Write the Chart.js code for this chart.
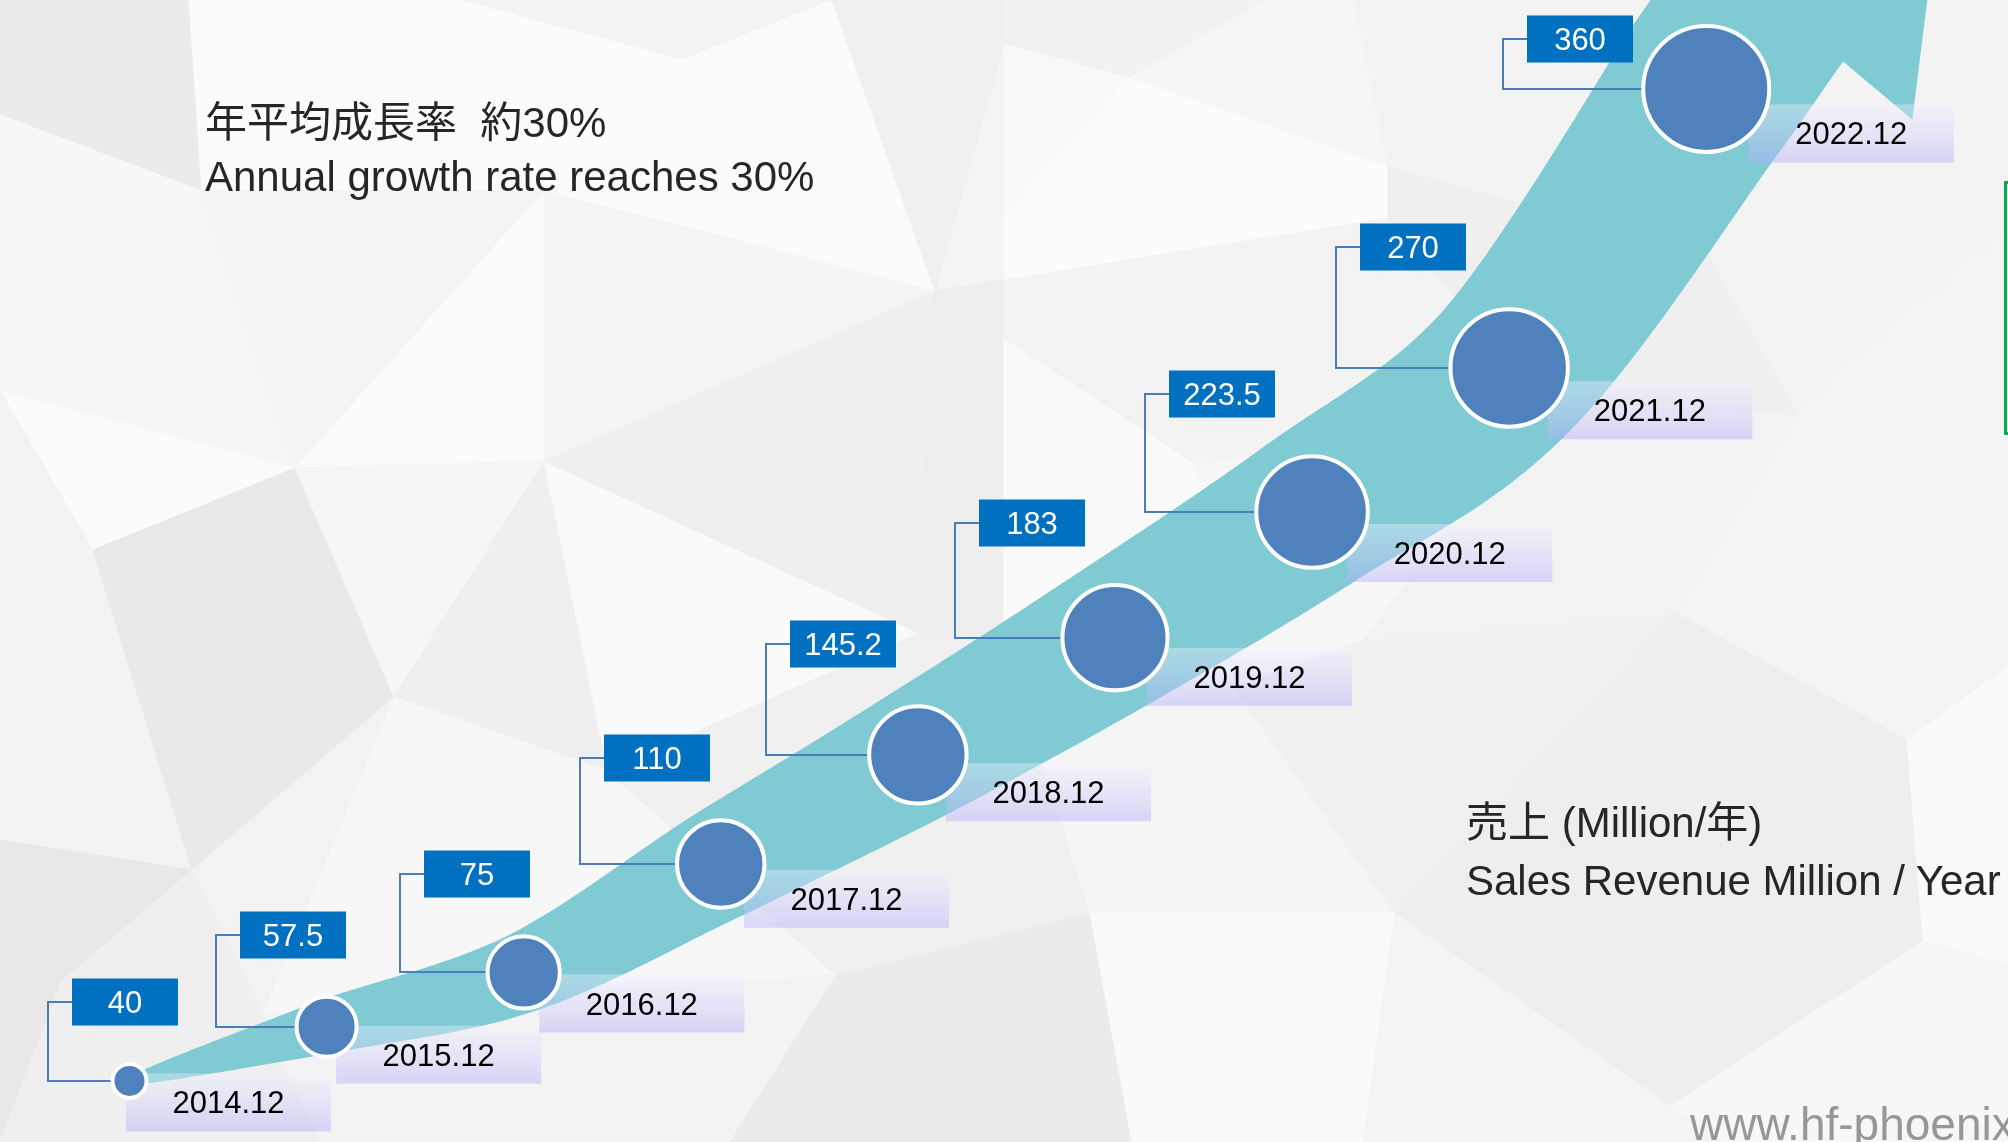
<!DOCTYPE html>
<html>
<head>
<meta charset="utf-8">
<script src="https://cdn.jsdelivr.net/npm/chart.js"></script>
<style>
  html, body { margin: 0; padding: 0; background: #f4f4f4; overflow: hidden; }
  #wrap { position: relative; width: 2008px; height: 1142px; overflow: hidden; }
  #c { position: absolute; left: 0; top: 0; }
  .note { position: absolute; white-space: nowrap; font-family: "Liberation Sans", Arial, "Noto Sans CJK JP", sans-serif; font-size: 42px; line-height: 42px; color: #262626; }
  .web { font-size: 46px; line-height: 46px; color: #979797; }
</style>
</head>
<body>
<div id="wrap">
  <canvas id="c" width="2008" height="1142"></canvas>
</div>
<script>
// ---------------- data ----------------
const categories = ['2014.12', '2015.12', '2016.12', '2017.12', '2018.12', '2019.12', '2020.12', '2021.12', '2022.12'];
const sales = [40, 57.5, 75, 110, 145.2, 183, 223.5, 270, 360];
const salesLabels = ['40', '57.5', '75', '110', '145.2', '183', '223.5', '270', '360'];
const notesLeft = ['年平均成長率\u00a0\u00a0約30%', 'Annual growth rate reaches 30%'];
const notesRight = ['売上 (Million/年)', 'Sales Revenue Million / Year'];
const website = 'www.hf-phoenix.com';

// ---------------- styles ----------------
const BAND = '#80cad4';
const BUBBLE = '#4f81bd';
const VALUE_BOX = '#0070c0';
const LINK = '#4a7ebb';
const FONT = '"Liberation Sans", Arial, sans-serif';
const R_MIN = 19, R_MAX = 65;

const vMin = Math.min(...sales), vMax = Math.max(...sales);
function outerRadius(v) {
  const t = Math.log(v / vMin) / Math.log(vMax / vMin);
  return R_MIN + (R_MAX - R_MIN) * Math.pow(t, 0.7);
}

// low-poly background facets (decoration only)
const BG_FACETS = [
  ['#ebebeb', [0,0, 189,0, 202,191, 0,115]],
  ['#fbfbfb', [189,0, 458,0, 544,191, 202,191]],
  ['#f3f3f3', [458,0, 832,0, 682,60]],
  ['#fcfcfc', [458,0, 682,60, 544,191]],
  ['#fbfbfb', [682,60, 832,0, 935,291, 544,191]],
  ['#f0f0f0', [832,0, 1004,0, 1004,44, 935,291]],
  ['#f8f8f8', [0,115, 202,191, 0,317]],
  ['#f6f6f6', [0,317, 202,191, 295,468, 0,391]],
  ['#f4f4f4', [202,191, 544,191, 295,468]],
  ['#fbfbfb', [544,191, 544,461, 295,468]],
  ['#f5f5f5', [544,191, 935,291, 544,461]],
  ['#fbfbfb', [0,391, 295,468, 93,550]],
  ['#f3f3f3', [0,391, 93,550, 192,870, 0,840]],
  ['#e9e9e9', [93,550, 295,468, 394,697, 192,870]],
  ['#f6f6f6', [295,468, 544,461, 394,697]],
  ['#efefef', [544,461, 608,771, 394,697]],
  ['#fafafa', [544,461, 919,633, 608,771]],
  ['#efefef', [544,461, 935,291, 919,633]],
  ['#e8e8e8', [0,840, 192,870, 61,982, 0,1142]],
  ['#f2f2f2', [192,870, 394,697, 263,1015]],
  ['#f7f7f7', [394,697, 608,771, 836,975, 263,1015]],
  ['#efefef', [61,982, 192,870, 263,1015, 320,1142, 0,1142]],
  ['#f3f3f3', [263,1015, 836,975, 730,1142, 320,1142]],
  ['#ebebeb', [836,975, 1090,913, 1132,1142, 730,1142]],
  ['#f0f0f0', [608,771, 919,633, 1004,640, 1090,913, 836,975]],
  ['#eeeeee', [935,291, 1004,280, 1004,640, 919,633]],
  ['#f1f1f1', [1004,0, 1266,0, 1129,78, 1004,44]],
  ['#f6f6f6', [1266,0, 1353,0, 1388,167, 1129,78]],
  ['#f3f3f3', [1353,0, 2008,0, 2008,233, 1798,415, 1708,255, 1388,167]],
  ['#f9f9f9', [1004,44, 1129,78, 1004,215]],
  ['#fcfcfc', [1004,215, 1129,78, 1388,167, 1388,218, 1004,280]],
  ['#f3f3f3', [1004,280, 1388,218, 1542,400, 1196,466, 1004,339]],
  ['#fafafa', [1004,339, 1196,466, 1234,688, 1004,640]],
  ['#efefef', [1388,167, 1708,255, 1798,415, 1542,400, 1388,218]],
  ['#f4f4f4', [1798,415, 2008,233, 2008,666, 1907,740, 1676,613]],
  ['#f2f2f2', [1542,400, 1798,415, 1676,613, 1363,640]],
  ['#f7f7f7', [1196,466, 1542,400, 1363,640, 1234,688]],
  ['#f5f5f5', [1004,640, 1234,688, 1395,913, 1090,913]],
  ['#f0f0f0', [1234,688, 1363,640, 1676,613, 1395,913]],
  ['#eeeeee', [1676,613, 1907,740, 1923,941, 1670,1106, 1395,913]],
  ['#fafafa', [1907,740, 2008,666, 2008,964, 1923,941]],
  ['#fafafa', [1090,913, 1395,913, 1363,1142, 1132,1142]],
  ['#f4f4f4', [1395,913, 1670,1106, 1727,1142, 1363,1142]],
  ['#f7f7f7', [1670,1106, 1923,941, 2008,964, 2008,1142, 1727,1142]]
];

// ---------------- html notes ----------------
const wrap = document.getElementById('wrap');
function addNote(text, left, top, cls) {
  const d = document.createElement('div');
  d.className = 'note' + (cls ? ' ' + cls : '');
  d.style.left = left + 'px';
  d.style.top = top + 'px';
  d.textContent = text;
  wrap.appendChild(d);
}
addNote(notesLeft[0], 205, 101.5);
addNote(notesLeft[1], 205, 155.5);
addNote(notesRight[0], 1466, 801.5);
addNote(notesRight[1], 1466, 859.5);
addNote(website, 1690, 1101, 'web');

// ---------------- plugins ----------------
function cr(p0, p1, p2, p3, t) {
  const t2 = t * t, t3 = t2 * t;
  return 0.5 * ((2 * p1) + (-p0 + p2) * t + (2 * p0 - 5 * p1 + 4 * p2 - p3) * t2 + (-p0 + 3 * p1 - 3 * p2 + p3) * t3);
}

const backgroundPlugin = {
  id: 'lowpoly',
  beforeDraw(chart) {
    const ctx = chart.ctx;
    ctx.save();
    ctx.fillStyle = '#f4f4f4';
    ctx.fillRect(0, 0, chart.width, chart.height);
    BG_FACETS.forEach(([col, pts]) => {
      ctx.beginPath();
      ctx.moveTo(pts[0], pts[1]);
      for (let k = 2; k < pts.length; k += 2) ctx.lineTo(pts[k], pts[k + 1]);
      ctx.closePath();
      ctx.fillStyle = col;
      ctx.fill();
      ctx.strokeStyle = col;
      ctx.lineWidth = 1;
      ctx.stroke();
    });
    ctx.restore();
  }
};

const arrowPlugin = {
  id: 'growthArrow',
  beforeDatasetsDraw(chart) {
    const ctx = chart.ctx;
    const meta = chart.getDatasetMeta(0);
    const P = meta.data.map(e => ({ x: e.x, y: e.y }));
    const R = sales.map(outerRadius);
    const HW = R.map(r => Math.max(4, 2.1 * r - 40));
    const n = P.length;

    // smooth centre line through the bubbles
    const S = [];
    const steps = 30;
    for (let i = 0; i < n - 1; i++) {
      const p0 = P[Math.max(i - 1, 0)], p1 = P[i], p2 = P[i + 1], p3 = P[Math.min(i + 2, n - 1)];
      for (let s = 0; s < steps; s++) {
        const t = s / steps;
        S.push({ x: cr(p0.x, p1.x, p2.x, p3.x, t), y: cr(p0.y, p1.y, p2.y, p3.y, t), hw: HW[i] + (HW[i + 1] - HW[i]) * t });
      }
    }
    S.push({ x: P[n - 1].x, y: P[n - 1].y, hw: HW[n - 1] });
    const a = S[S.length - 2], b = S[S.length - 1];
    let dx = b.x - a.x, dy = b.y - a.y;
    const dl = Math.hypot(dx, dy) || 1; dx /= dl; dy /= dl;
    const ext = 1.55 * R[n - 1];
    for (let k = 1; k <= 6; k++) {
      S.push({ x: b.x + dx * ext * k / 6, y: b.y + dy * ext * k / 6, hw: HW[n - 1] });
    }
    const top = [], bot = [];
    for (let k = 0; k < S.length; k++) {
      const pa = S[Math.max(k - 1, 0)], pb = S[Math.min(k + 1, S.length - 1)];
      let tx = pb.x - pa.x, ty = pb.y - pa.y;
      const tl = Math.hypot(tx, ty) || 1; tx /= tl; ty /= tl;
      const nx = -ty, ny = tx;
      top.push([S[k].x - nx * S[k].hw, S[k].y - ny * S[k].hw]);
      bot.push([S[k].x + nx * S[k].hw, S[k].y + ny * S[k].hw]);
    }
    const base = S[S.length - 1];
    const nx = -dy, ny = dx, hw = base.hw, barb = 90, back = 8;
    const tip = (hw + barb) / 0.525 - back;

    ctx.save();
    ctx.beginPath();
    ctx.moveTo(top[0][0], top[0][1]);
    for (let k = 1; k < top.length; k++) ctx.lineTo(top[k][0], top[k][1]);
    ctx.lineTo(base.x - nx * (hw + barb) - dx * back, base.y - ny * (hw + barb) - dy * back);
    ctx.lineTo(base.x + dx * tip, base.y + dy * tip);
    ctx.lineTo(base.x + nx * (hw + barb) - dx * back, base.y + ny * (hw + barb) - dy * back);
    for (let k = bot.length - 1; k >= 0; k--) ctx.lineTo(bot[k][0], bot[k][1]);
    ctx.closePath();
    ctx.fillStyle = BAND;
    ctx.fill();

    ctx.font = '31px ' + FONT;
    ctx.textAlign = 'center';
    ctx.textBaseline = 'alphabetic';

    for (let i = 0; i < n; i++) {
      const c = P[i], r = R[i];
      // date label with soft gradient panel
      const tx = c.x + r + 80, ty = c.y + 0.5 * r + 12;
      const bw = 205, bh = 58, bx = tx - bw / 2, by = ty - bh / 2;
      const g = ctx.createLinearGradient(0, by, 0, by + bh);
      g.addColorStop(0, 'rgba(242,242,255,0.38)');
      g.addColorStop(1, 'rgba(178,173,249,0.45)');
      ctx.fillStyle = g;
      ctx.fillRect(bx, by, bw, bh);
      ctx.fillStyle = '#000000';
      ctx.fillText(categories[i], tx, ty + 11);

      // value box + elbow connector
      const vbw = 106, vbh = 47;
      let bcy = c.y - (r + 60);
      if (bcy - vbh / 2 < 15) bcy = 15 + vbh / 2;
      let bl = c.x - (2.2 * r + 40) + 24;
      if (bcy + vbh / 2 > c.y - r - 4) bl = Math.min(bl, c.x - r - 8 - vbw);
      const connX = Math.round(bl - 24);
      bl = Math.round(bl); bcy = Math.round(bcy);
      ctx.strokeStyle = LINK;
      ctx.lineWidth = 2;
      ctx.beginPath();
      ctx.moveTo(bl, bcy);
      ctx.lineTo(connX, bcy);
      ctx.lineTo(connX, Math.round(c.y));
      ctx.lineTo(c.x - r + 2, Math.round(c.y));
      ctx.stroke();
      ctx.fillStyle = VALUE_BOX;
      ctx.fillRect(bl, bcy - vbh / 2, vbw, vbh);
      ctx.fillStyle = '#ffffff';
      ctx.fillText(salesLabels[i], bl + vbw / 2, bcy + 11);
    }
    ctx.restore();
  },
  afterDraw(chart) {
    const ctx = chart.ctx;
    ctx.save();
    ctx.strokeStyle = '#00b050';
    ctx.lineWidth = 3;
    ctx.strokeRect(2005.5, 182.5, 40, 251);
    ctx.restore();
  }
};

// ---------------- chart ----------------
new Chart(document.getElementById('c'), {
  type: 'bubble',
  data: {
    labels: categories,
    datasets: [{
      label: '売上 (Million/年)',
      data: sales.map((v, i) => ({ x: i, y: v, r: outerRadius(v) - 2 })),
      backgroundColor: BUBBLE,
      borderColor: '#ffffff',
      borderWidth: 4,
      hoverRadius: 0,
      hoverBorderWidth: 4,
      clip: false
    }]
  },
  options: {
    responsive: false,
    devicePixelRatio: 1,
    animation: false,
    events: [],
    layout: { padding: 0, autoPadding: false },
    plugins: { legend: { display: false }, title: { display: false }, tooltip: { enabled: false } },
    scales: {
      x: { type: 'linear', min: -0.657, max: 9.531, display: false },
      y: { type: 'linear', min: 20.3, max: 388.7, display: false }
    }
  },
  plugins: [backgroundPlugin, arrowPlugin]
});
</script>
</body>
</html>
